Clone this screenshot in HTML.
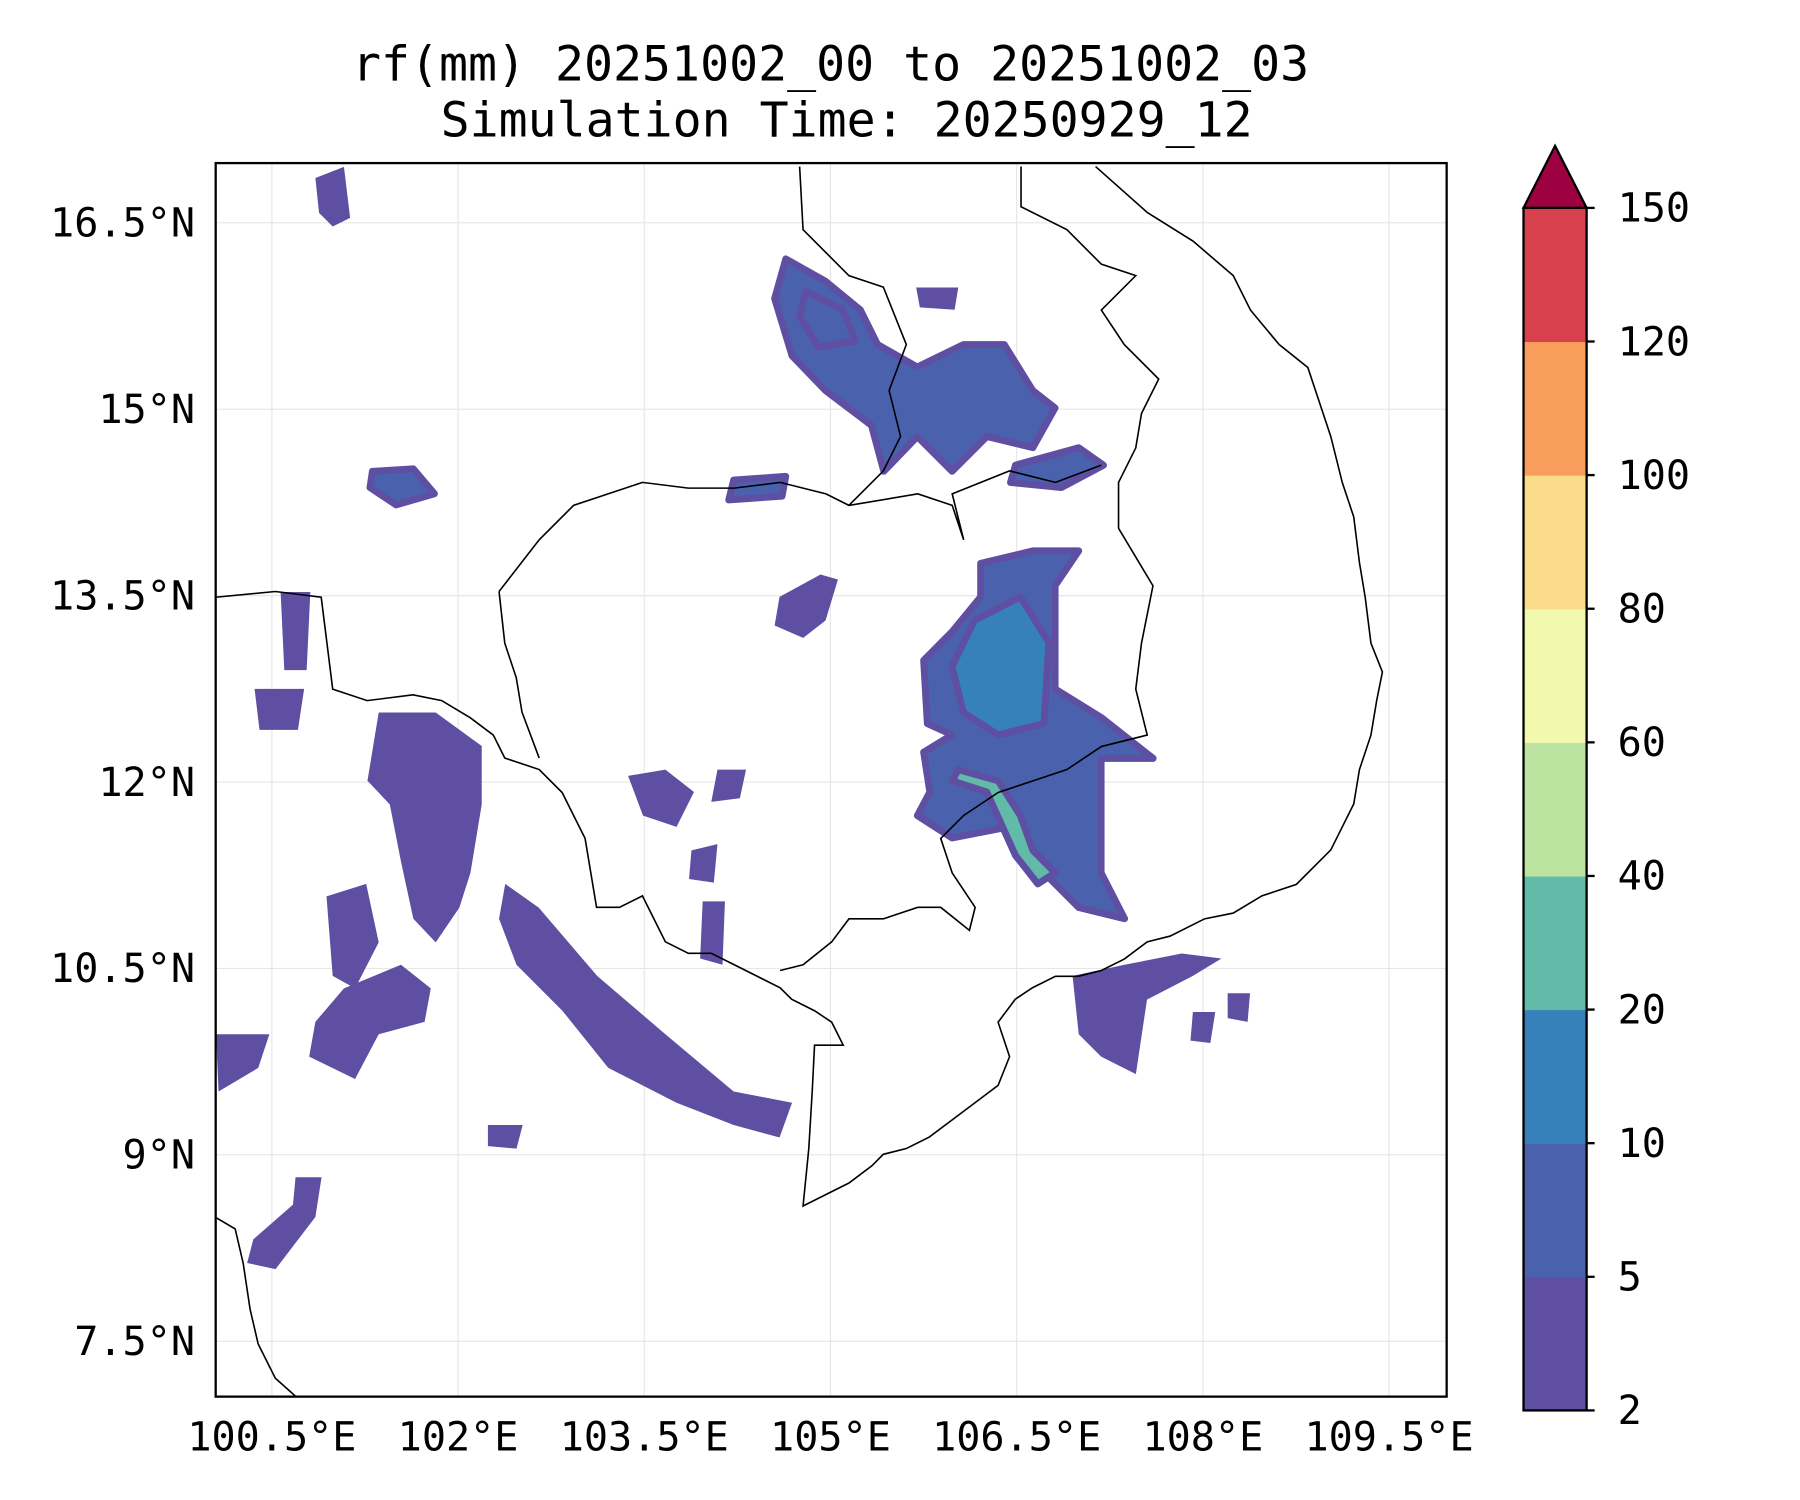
<!DOCTYPE html>
<html><head><meta charset="utf-8"><style>
html,body{margin:0;padding:0;background:#fff;}
svg{display:block;font-family:"DejaVu Sans Mono","Liberation Mono",monospace;}
</style></head><body>
<svg id="chart" width="1800" height="1500" viewBox="0 0 1569 1306" preserveAspectRatio="none" xmlns="http://www.w3.org/2000/svg">
<text x="724" y="70" font-size="42" text-anchor="middle">rf(mm) 20251002_00 to 20251002_03</text>
<text x="738" y="119" font-size="42" text-anchor="middle">Simulation Time: 20250929_12</text>
<defs><clipPath id="mapclip"><rect x="188" y="142" width="1073" height="1074"/></clipPath></defs>
<g id="grid"></g>
<g id="rain" clip-path="url(#mapclip)"></g>
<g clip-path="url(#mapclip)" fill="none" stroke="#000" stroke-width="1.4">
<polyline points="955,145 1000,185 1040,210 1075,240 1090,270 1115,300 1140,320 1150,350 1160,380 1170,420 1180,450 1185,490 1190,520 1195,560 1205,585 1200,610 1195,640 1185,670 1180,700 1160,740 1130,770 1100,780 1075,795 1050,800 1020,815 1000,820 980,835 960,845 940,850 920,850 900,860 885,870 870,890 880,920 870,945 850,960 830,975 810,990 790,1000 770,1005 760,1015 740,1030 720,1040 700,1050 705,1000 708,950 710,910 735,910 725,890 710,880 690,870 680,860 660,850 640,840 620,830 600,830 580,820 570,800 560,780 540,790 520,790 515,760 510,730 500,710 490,690 470,670 440,660 430,640 410,625 385,610 360,605 320,610 290,600 285,560 280,520 240,515 188,520"/>
<polyline points="188,1060 205,1070 212,1100 218,1140 225,1170 240,1200 258,1216"/>
<polyline points="697,145 700,200 740,240 770,250 780,275 790,300 775,340 785,380 770,410 740,440"/>
<polyline points="890,145 890,180 930,200 960,230 990,240 960,270 980,300 1010,330 995,360 990,390 975,420 975,460 1005,510 995,560 990,600 1000,640 960,650 930,670 900,680 870,690"/>
<polyline points="435,515 470,470 500,440 560,420 600,425 640,425 680,420 720,430 740,440 800,430 830,440 840,470 830,430 880,410 920,420 960,405"/>
<polyline points="870,690 840,710 820,730 830,760 850,790 845,810 820,790 800,790 770,800 740,800 725,820 700,840 680,845"/>
<polyline points="435,515 440,560 450,590 455,620 470,660"/>
</g>
<rect x="188" y="142" width="1073" height="1074" fill="none" stroke="#000" stroke-width="2"/>
<g id="axes"></g>
<g id="cbar"></g>
</svg>
<script>
const lonTicks=[100.5,102,103.5,105,106.5,108,109.5];
const lonLabels=["100.5°E","102°E","103.5°E","105°E","106.5°E","108°E","109.5°E"];
const latTicks=[16.5,15,13.5,12,10.5,9,7.5];
const latLabels=["16.5°N","15°N","13.5°N","12°N","10.5°N","9°N","7.5°N"];
const levels=[2,5,10,20,40,60,80,100,120,150];
const levelColors=["#5e4fa2","#4a62ad","#3681ba","#62bba9","#bce4a0","#f2f9ae","#fbdc8a","#f89d5c","#d7414e"];
const extendColor="#9e0142";
const blobLevels=[1,1,2,3,0,0,0,0,0,0,0,0,0,0,1,1,1,0,0,0,0,0,0,0,0,0,1];
const blobs=[
[[104.64,16.21],[104.96,16.03],[105.24,15.80],[105.38,15.52],[105.70,15.34],[106.07,15.52],[106.40,15.52],[106.63,15.15],[106.81,15.01],[106.63,14.69],[106.26,14.78],[105.98,14.50],[105.70,14.78],[105.43,14.50],[105.33,14.87],[104.96,15.15],[104.69,15.43],[104.55,15.89]],
[[106.21,13.76],[106.63,13.86],[107.0,13.86],[106.81,13.58],[106.81,12.75],[107.18,12.52],[107.60,12.19],[107.18,12.19],[107.18,11.82],[107.18,11.27],[107.37,10.90],[107.0,10.99],[106.63,11.36],[106.44,11.64],[105.98,11.55],[105.70,11.73],[105.80,11.92],[105.75,12.24],[105.98,12.38],[105.78,12.47],[105.75,12.98],[105.98,13.21],[106.21,13.49]],
[[106.16,13.30],[106.53,13.49],[106.76,13.12],[106.72,12.47],[106.35,12.38],[106.07,12.56],[105.98,12.93]],
[[106.03,12.10],[106.35,12.01],[106.53,11.73],[106.63,11.45],[106.81,11.27],[106.67,11.18],[106.49,11.41],[106.26,11.92],[105.98,12.01]],
[[102.38,11.18],[102.65,10.99],[103.12,10.44],[103.67,9.97],[104.22,9.51],[104.69,9.42],[104.59,9.14],[104.22,9.24],[103.76,9.42],[103.21,9.70],[102.84,10.16],[102.47,10.53],[102.33,10.90]],
[[101.36,12.56],[101.82,12.56],[102.19,12.29],[102.19,11.82],[102.10,11.27],[102.01,10.99],[101.82,10.71],[101.64,10.90],[101.54,11.36],[101.45,11.82],[101.27,12.01]],
[[101.08,10.34],[101.54,10.53],[101.78,10.34],[101.73,10.07],[101.36,9.97],[101.17,9.61],[100.80,9.79],[100.85,10.07]],
[[100.94,11.08],[101.26,11.18],[101.36,10.71],[101.17,10.34],[100.99,10.44]],
[[106.95,10.44],[107.37,10.53],[107.83,10.62],[108.15,10.58],[107.92,10.44],[107.55,10.25],[107.46,9.65],[107.18,9.79],[107.0,9.97]],
[[103.37,12.05],[103.67,12.10],[103.90,11.92],[103.76,11.64],[103.49,11.73]],
[[104.09,12.10],[104.32,12.10],[104.27,11.87],[104.04,11.84]],
[[103.88,11.45],[104.09,11.50],[104.06,11.19],[103.86,11.22]],
[[103.97,11.04],[104.15,11.04],[104.13,10.53],[103.95,10.58]],
[[104.59,13.49],[104.92,13.67],[105.06,13.63],[104.96,13.30],[104.78,13.16],[104.55,13.26]],
[[101.31,14.50],[101.64,14.52],[101.81,14.32],[101.50,14.23],[101.29,14.37]],
[[104.22,14.43],[104.64,14.46],[104.61,14.30],[104.18,14.27]],
[[106.49,14.55],[107.0,14.69],[107.20,14.55],[106.86,14.37],[106.45,14.41]],
[[100.85,16.86],[101.08,16.95],[101.13,16.54],[100.99,16.47],[100.88,16.58]],
[[100.05,9.97],[100.48,9.97],[100.39,9.70],[100.07,9.51]],
[[100.69,8.82],[100.90,8.82],[100.85,8.50],[100.53,8.08],[100.30,8.13],[100.35,8.32],[100.67,8.60]],
[[100.57,13.53],[100.81,13.53],[100.78,12.90],[100.60,12.90]],
[[107.92,10.15],[108.10,10.15],[108.06,9.90],[107.90,9.92]],
[[102.24,9.24],[102.52,9.24],[102.47,9.05],[102.24,9.07]],
[[100.36,12.75],[100.76,12.75],[100.71,12.42],[100.40,12.42]],
[[108.20,10.30],[108.38,10.30],[108.36,10.07],[108.20,10.10]],
[[105.69,15.98],[106.03,15.98],[106.0,15.80],[105.72,15.82]],
[[104.80,15.95],[105.10,15.80],[105.20,15.55],[104.90,15.50],[104.75,15.75]]
];
const NS="http://www.w3.org/2000/svg";
const X0=237,Y0=194,K=108.2;
function xs(lon){return X0+(lon-100.5)*K;}
function ys(lat){return Y0+(16.5-lat)*K;}
function mk(t,a,p){const e=document.createElementNS(NS,t);for(const k in a)e.setAttribute(k,a[k]);p.appendChild(e);return e;}
const grid=document.getElementById('grid'),axes=document.getElementById('axes'),rain=document.getElementById('rain'),cbar=document.getElementById('cbar');
lonTicks.forEach((v,i)=>{const x=xs(v);
 const g=mk('line',{x1:x,x2:x,y1:142,y2:1216,stroke:'#e6e6e6','stroke-width':1},grid);
 
 
 const t=mk('text',{x:x,y:1263,'font-size':35,'text-anchor':'middle'},axes);t.textContent=lonLabels[i];
 
 
});
latTicks.forEach((v,i)=>{const y=ys(v);
 const g=mk('line',{x1:188,x2:1261,y1:y,y2:y,stroke:'#e6e6e6','stroke-width':1},grid);
 
 
 const t=mk('text',{x:170,y:y+12,'font-size':35,'text-anchor':'end'},axes);t.textContent=latLabels[i];
 
 
});
blobs.forEach((b,i)=>{const lv=blobLevels[i];
 const p=mk('polygon',{points:b.map(q=>xs(q[0]).toFixed(1)+','+ys(q[1]).toFixed(1)).join(' '),fill:levelColors[lv],stroke:lv>0?levelColors[0]:'none','stroke-width':lv>0?6:0,'stroke-linejoin':'round'},rain);
 
 
});
const CX=1328,CW=55,CB=1228,CT=181,seg=(CB-CT)/(levels.length-1);
levelColors.forEach((c,i)=>{
 const r=mk('rect',{x:CX,y:CB-(i+1)*seg,width:CW,height:seg+0.5,fill:c},cbar);
 
 
});
const tri=mk('polygon',{points:`${CX},${CT} ${CX+CW/2},${CT-54} ${CX+CW},${CT}`,fill:extendColor,stroke:'#000','stroke-width':2},cbar);


const fr=mk('rect',{x:CX,y:CT,width:CW,height:CB-CT,fill:'none',stroke:'#000','stroke-width':2},cbar);


levels.forEach((v,i)=>{const y=CB-i*seg;
 mk('line',{x1:CX+CW,x2:CX+CW+7,y1:y,y2:y,stroke:'#000','stroke-width':2},cbar);
 const t=mk('text',{x:CX+CW+27,y:y+12,'font-size':35},cbar);t.textContent=v;
 
 
});
</script>
</body></html>
